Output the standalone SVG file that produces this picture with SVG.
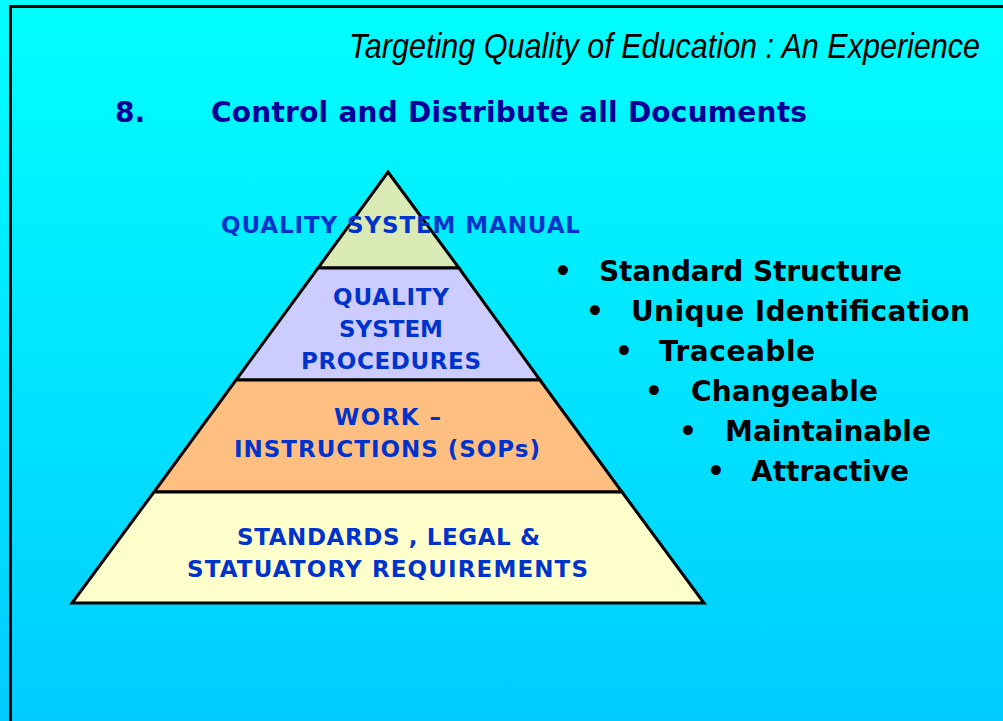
<svg xmlns="http://www.w3.org/2000/svg" width="1003" height="721" viewBox="0 0 1003 721">
<defs>
<linearGradient id="bg" x1="0" y1="0" x2="0" y2="1">
<stop offset="0" stop-color="#00FFFF"/>
<stop offset="1" stop-color="#00CCFF"/>
</linearGradient>
<style>
.lyr{stroke:#000;stroke-width:3;stroke-linejoin:miter}
.lbl{font-family:"DejaVu Sans","Verdana",sans-serif;font-weight:bold;font-size:23px;fill:#0033CC;text-anchor:middle}
.bul{font-family:"DejaVu Sans","Verdana",sans-serif;font-weight:bold;font-size:28px;fill:#000}
.ttl{font-family:"DejaVu Sans","Verdana",sans-serif;font-weight:bold;font-size:28px;fill:#000099}
.hdr{font-family:"Liberation Sans",Arial,sans-serif;font-style:italic;font-size:35px;fill:#000}
</style>
</defs>
<rect x="0" y="0" width="1003" height="721" fill="url(#bg)"/>
<path d="M10.5,740 V6.5 H1010" fill="none" stroke="#000" stroke-width="3"/>
<text class="hdr" transform="translate(349,58) scale(0.873,1)" x="0" y="0">Targeting Quality of Education : An Experience</text>
<g id="title">
<text class="ttl" x="115" y="122">8.</text>
<text class="ttl" x="211" y="122" textLength="596">Control and Distribute all Documents</text>
</g>
<g id="layer-manual">
<polygon class="lyr" points="388,172 459,268 318,268" fill="#D9EAB4"/>
</g>
<g id="layer-procedures">
<polygon class="lyr" points="318,268 459,268 540,380 236,380" fill="#CCCCFF"/>
<text class="lbl" x="391" y="305" textLength="116">QUALITY</text>
<text class="lbl" x="391" y="337" textLength="104">SYSTEM</text>
<text class="lbl" x="391" y="369" textLength="180">PROCEDURES</text>
</g>
<g id="layer-work">
<polygon class="lyr" points="236,380 540,380 622,492 154,492" fill="#FFBF80"/>
<text class="lbl" x="387.5" y="425" textLength="107">WORK –</text>
<text class="lbl" x="387" y="457" textLength="306">INSTRUCTIONS (SOPs)</text>
</g>
<g id="layer-standards">
<polygon class="lyr" points="154,492 622,492 704,603 72,603" fill="#FFFFCC"/>
<text class="lbl" x="388.5" y="545" textLength="303">STANDARDS , LEGAL &amp;</text>
<text class="lbl" x="387.5" y="577" textLength="401">STATUATORY REQUIREMENTS</text>
</g>
<text class="lbl" x="400.5" y="233" textLength="359">QUALITY SYSTEM MANUAL</text>
<g id="bullets">
<text class="bul" x="554" y="281">•</text><text class="bul" x="599" y="281" textLength="303">Standard Structure</text>
<text class="bul" x="586" y="321">•</text><text class="bul" x="631" y="321" textLength="339">Unique Identification</text>
<text class="bul" x="615" y="361">•</text><text class="bul" x="659" y="361" textLength="156">Traceable</text>
<text class="bul" x="645" y="401">•</text><text class="bul" x="691" y="401" textLength="187">Changeable</text>
<text class="bul" x="679" y="441">•</text><text class="bul" x="725" y="441" textLength="206">Maintainable</text>
<text class="bul" x="707" y="481">•</text><text class="bul" x="751" y="481" textLength="158">Attractive</text>
</g>
</svg>
